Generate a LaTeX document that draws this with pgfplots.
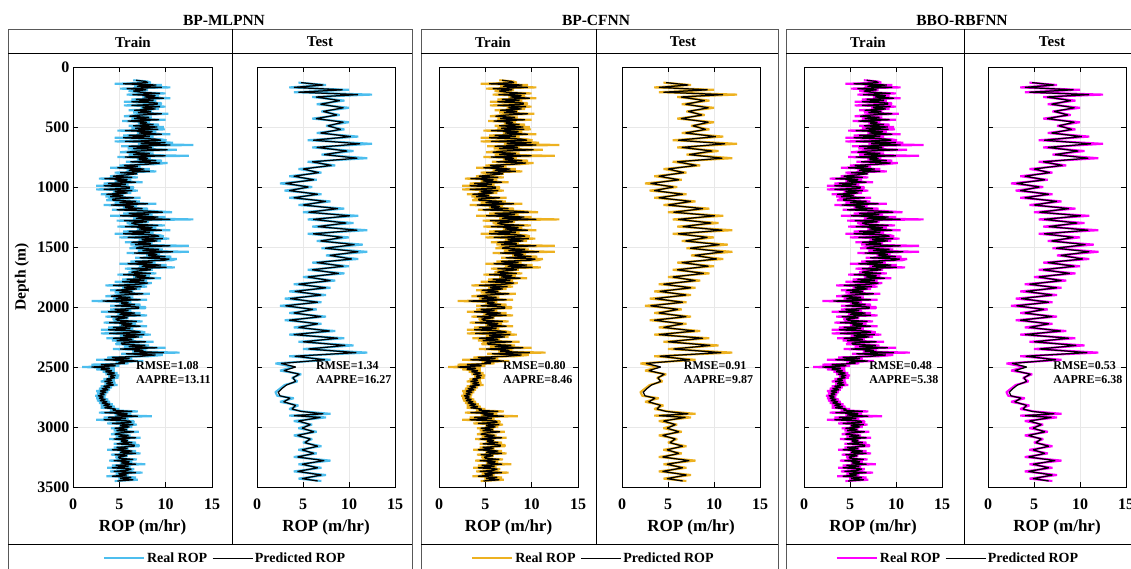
\documentclass[border=0pt]{standalone}
\usepackage{pgfplots}
\pgfplotsset{compat=1.18}
\usepackage{pgfplotstable}
\usepackage{fontspec}
\setmainfont{Liberation Serif}
\definecolor{cblue}{RGB}{77,190,238}
\definecolor{corange}{RGB}{237,177,32}
\definecolor{cmag}{RGB}{255,0,255}

\pgfplotstableread[row sep=\\]{
d r p\\
110 6.5 6.8\\ 120 8.0 7.8\\ 130 8.4 8.1\\ 140 4.5 5.4\\ 150 9.6 9.0\\ 160 6.6 6.9\\ 170 10.5 9.6\\ 180 5.1 5.8\\ 190 8.1 7.9\\ 200 6.0 6.5\\
210 7.0 7.3\\ 220 10.0 9.4\\ 230 5.8 6.4\\ 240 9.3 8.9\\ 250 7.5 7.7\\ 260 10.5 9.8\\ 270 6.3 6.8\\ 280 9.0 8.7\\ 290 5.5 6.3\\ 300 9.5 9.1\\
310 9.5 9.1\\ 320 5.5 6.3\\ 330 10.0 9.4\\ 340 7.3 7.5\\ 350 9.3 8.9\\ 360 6.0 6.6\\ 370 8.5 8.4\\ 380 6.5 7.0\\ 390 10.3 9.6\\ 400 7.0 7.3\\
410 5.5 6.1\\ 420 8.5 8.2\\ 430 6.3 6.6\\ 440 10.0 9.3\\ 450 5.3 5.9\\ 460 8.3 8.0\\ 470 7.0 7.2\\ 480 9.3 8.7\\ 490 6.0 6.5\\ 500 9.8 9.1\\
510 6.3 6.7\\ 520 9.9 9.2\\ 530 4.8 5.6\\ 540 9.0 8.6\\ 550 6.9 7.1\\ 560 10.5 9.6\\ 570 5.4 6.0\\ 580 8.7 8.3\\ 590 4.5 5.4\\ 600 9.3 8.8\\
610 10.1 9.5\\ 620 4.5 5.6\\ 630 10.8 10.0\\ 640 7.0 7.3\\ 650 13.0 10.5\\ 660 5.2 6.0\\ 670 8.7 8.5\\ 680 5.9 6.5\\ 690 11.2 10.2\\ 700 6.6 7.0\\
710 5.1 5.8\\ 720 8.7 8.3\\ 730 6.0 6.5\\ 740 12.5 10.0\\ 750 4.8 5.6\\ 760 8.4 8.1\\ 770 6.9 7.1\\ 780 9.6 9.0\\ 790 5.7 6.2\\ 800 10.2 9.4\\
810 8.8 8.1\\ 820 5.0 5.5\\ 830 7.3 7.0\\ 840 4.0 4.8\\ 850 8.3 7.7\\ 860 5.8 6.0\\ 870 9.0 8.3\\ 880 4.5 5.1\\ 890 7.0 6.9\\ 900 5.3 5.6\\
910 4.0 4.3\\ 920 7.0 6.4\\ 930 2.8 3.4\\ 940 6.3 5.9\\ 950 4.5 4.7\\ 960 7.5 6.8\\ 970 3.3 3.8\\ 980 6.0 5.7\\ 990 2.5 3.3\\ 1000 6.5 6.1\\
1010 6.5 6.1\\ 1020 2.5 3.3\\ 1030 7.0 6.4\\ 1040 4.3 4.5\\ 1050 6.3 5.9\\ 1060 3.0 3.6\\ 1070 5.5 5.4\\ 1080 3.5 4.0\\ 1090 7.3 6.6\\ 1100 4.0 4.3\\
1110 3.6 4.3\\ 1120 7.2 6.8\\ 1130 4.5 5.0\\ 1140 9.0 8.1\\ 1150 3.3 4.1\\ 1160 6.9 6.6\\ 1170 5.4 5.6\\ 1180 8.1 7.5\\ 1190 4.2 4.7\\ 1200 8.7 7.9\\
1210 10.7 9.7\\ 1220 5.4 6.0\\ 1230 8.6 8.2\\ 1240 4.0 5.1\\ 1250 10.0 9.2\\ 1260 6.5 6.8\\ 1270 13.0 10.5\\ 1280 4.7 5.5\\ 1290 8.2 8.0\\ 1300 5.8 6.3\\
1310 6.3 6.7\\ 1320 9.9 9.2\\ 1330 4.8 5.6\\ 1340 9.0 8.6\\ 1350 6.9 7.1\\ 1360 10.5 9.6\\ 1370 5.4 6.0\\ 1380 8.7 8.3\\ 1390 4.5 5.4\\ 1400 9.3 8.8\\
1410 9.8 9.3\\ 1420 5.0 5.9\\ 1430 10.4 9.7\\ 1440 7.1 7.4\\ 1450 9.5 9.1\\ 1460 5.6 6.3\\ 1470 8.6 8.4\\ 1480 6.2 6.7\\ 1490 12.5 10.5\\ 1500 6.8 7.2\\
1510 6.1 6.8\\ 1520 9.7 9.3\\ 1530 7.0 7.5\\ 1540 12.5 10.8\\ 1550 5.8 6.6\\ 1560 9.4 9.1\\ 1570 7.9 8.1\\ 1580 10.6 10.0\\ 1590 6.7 7.2\\ 1600 11.2 10.4\\
1610 10.7 9.9\\ 1620 6.2 6.7\\ 1630 8.9 8.6\\ 1640 5.0 5.9\\ 1650 10.1 9.5\\ 1660 7.1 7.4\\ 1670 11.0 10.1\\ 1680 5.6 6.3\\ 1690 8.6 8.4\\ 1700 6.5 7.0\\
1710 6.0 6.3\\ 1720 9.0 8.4\\ 1730 4.8 5.4\\ 1740 8.3 7.9\\ 1750 6.5 6.7\\ 1760 9.5 8.8\\ 1770 5.3 5.8\\ 1780 8.0 7.7\\ 1790 4.5 5.3\\ 1800 8.5 8.1\\
1810 7.5 7.1\\ 1820 3.5 4.3\\ 1830 8.0 7.4\\ 1840 5.3 5.5\\ 1850 7.3 6.9\\ 1860 4.0 4.6\\ 1870 6.5 6.4\\ 1880 4.5 5.0\\ 1890 8.3 7.6\\ 1900 5.0 5.3\\
1910 3.5 4.1\\ 1920 6.5 6.2\\ 1930 4.3 4.6\\ 1940 8.0 7.3\\ 1950 2.0 3.2\\ 1960 6.3 6.0\\ 1970 5.0 5.2\\ 1980 7.3 6.7\\ 1990 4.0 4.5\\ 2000 7.8 7.1\\
2010 7.8 7.1\\ 2020 4.0 4.5\\ 2030 6.3 6.0\\ 2040 3.0 3.8\\ 2050 7.3 6.7\\ 2060 4.8 5.0\\ 2070 8.0 7.3\\ 2080 3.5 4.1\\ 2090 6.0 5.9\\ 2100 4.3 4.6\\
2110 4.5 4.8\\ 2120 7.5 6.9\\ 2130 3.3 3.9\\ 2140 6.8 6.4\\ 2150 5.0 5.2\\ 2160 8.0 7.3\\ 2170 3.8 4.3\\ 2180 6.5 6.2\\ 2190 3.0 3.8\\ 2200 7.0 6.6\\
2210 7.8 7.3\\ 2220 3.0 3.9\\ 2230 8.4 7.7\\ 2240 5.1 5.4\\ 2250 7.5 7.1\\ 2260 3.6 4.3\\ 2270 6.6 6.4\\ 2280 4.2 4.7\\ 2290 8.7 7.9\\ 2300 4.8 5.2\\
2310 4.6 5.3\\ 2320 8.2 7.8\\ 2330 5.5 6.0\\ 2340 10.0 9.1\\ 2350 4.3 5.1\\ 2360 7.9 7.6\\ 2370 6.4 6.6\\ 2380 11.5 9.8\\ 2390 5.2 5.7\\ 2400 9.7 8.9\\
2410 8.2 7.4\\ 2420 3.7 4.2\\ 2430 6.4 6.1\\ 2440 2.5 3.4\\ 2450 7.6 7.0\\ 2460 4.6 4.9\\ 2470 6.0 5.6\\ 2480 2.0 3.0\\ 2490 5.0 4.6\\ 2500 1.0 2.0\\
2510 4.5 4.0\\ 2520 2.5 3.0\\ 2530 4.5 4.2\\ 2540 3.2 3.5\\ 2550 4.8 4.5\\ 2560 3.5 3.7\\ 2570 5.0 4.6\\ 2580 3.8 4.0\\ 2590 4.9 4.5\\ 2600 3.3 3.6\\
2610 4.5 4.2\\ 2620 3.0 3.4\\ 2630 4.6 4.3\\ 2640 3.4 3.6\\ 2650 4.8 4.4\\ 2660 3.0 3.3\\ 2670 4.2 4.0\\ 2680 2.8 3.1\\ 2690 4.0 3.8\\ 2700 2.5 2.9\\
2710 3.8 3.6\\ 2720 2.6 2.9\\ 2730 3.6 3.4\\ 2740 2.4 2.7\\ 2750 3.5 3.3\\ 2760 2.5 2.8\\ 2770 3.8 3.5\\ 2780 2.6 2.9\\ 2790 4.0 3.7\\ 2800 2.8 3.1\\
2810 4.3 4.0\\ 2820 3.0 3.3\\ 2830 4.5 4.2\\ 2840 3.0 3.4\\ 2850 5.0 4.6\\
2860 4.0 4.3\\ 2870 7.0 6.4\\ 2880 2.8 3.4\\ 2890 6.3 5.9\\ 2900 4.5 4.7\\ 2910 8.5 7.0\\ 2920 3.3 3.8\\ 2930 6.0 5.7\\ 2940 2.5 3.3\\ 2950 6.5 6.1\\
2960 6.6 6.3\\ 2970 3.7 4.2\\ 2980 6.9 6.5\\ 2990 5.0 5.1\\ 3000 6.4 6.1\\ 3010 4.1 4.5\\ 3020 5.9 5.8\\ 3030 4.4 4.7\\ 3040 7.1 6.6\\ 3050 4.8 5.0\\
3060 4.1 4.5\\ 3070 6.2 6.0\\ 3080 4.6 4.9\\ 3090 7.3 6.8\\ 3100 3.9 4.4\\ 3110 6.0 5.9\\ 3120 5.1 5.2\\ 3130 6.8 6.4\\ 3140 4.4 4.7\\ 3150 7.1 6.6\\
3160 7.1 6.6\\ 3170 4.4 4.7\\ 3180 6.0 5.9\\ 3190 3.7 4.2\\ 3200 6.8 6.4\\ 3210 5.0 5.1\\ 3220 7.3 6.8\\ 3230 4.1 4.5\\ 3240 5.9 5.8\\ 3250 4.6 4.9\\
3260 4.8 5.0\\ 3270 6.9 6.5\\ 3280 3.9 4.4\\ 3290 6.4 6.1\\ 3300 5.1 5.2\\ 3310 7.8 6.8\\ 3320 4.2 4.6\\ 3330 6.2 6.0\\ 3340 3.7 4.2\\ 3350 6.6 6.3\\
3360 6.2 5.9\\ 3370 4.0 4.4\\ 3380 7.5 6.8\\ 3390 4.6 4.9\\ 3400 6.0 5.8\\ 3410 3.6 4.2\\ 3420 6.8 6.3\\ 3430 4.9 5.1\\ 3440 7.0 6.5\\ 3450 4.5 4.8\\
}\traindata

\pgfplotstableread[row sep=\\]{
d r p\\
130 4.5 4.8\\ 150 7.5 7.2\\ 170 3.5 4.0\\ 190 10.0 9.3\\ 210 4.0 4.5\\ 230 12.5 11.0\\ 250 6.0 6.4\\ 280 9.5 9.0\\ 310 6.5 6.9\\ 340 10.0 9.4\\
370 7.0 7.2\\ 400 9.0 8.7\\ 430 6.0 6.4\\ 460 10.0 9.4\\ 490 7.5 7.7\\ 520 9.5 9.1\\ 550 6.5 6.9\\ 580 11.0 10.2\\ 610 5.5 6.1\\ 640 12.5 11.2\\
670 6.0 6.5\\ 700 10.5 9.8\\ 730 7.0 7.3\\ 760 12.0 10.9\\ 790 5.5 6.0\\ 820 8.5 8.1\\ 850 4.5 5.0\\ 880 7.0 6.7\\ 910 3.5 4.0\\ 940 6.5 6.2\\
970 2.5 3.1\\ 1000 6.0 5.6\\ 1030 3.0 3.5\\ 1060 7.0 6.6\\ 1090 3.5 4.0\\ 1120 8.0 7.5\\ 1150 4.5 5.0\\ 1180 9.5 8.8\\ 1210 5.0 5.6\\ 1240 11.0 10.1\\
1270 5.5 6.1\\ 1300 10.5 9.7\\ 1330 6.0 6.6\\ 1360 12.0 10.9\\ 1390 5.5 6.1\\ 1420 10.0 9.3\\ 1450 6.5 6.9\\ 1480 11.5 10.6\\ 1510 7.0 7.4\\ 1540 12.0 11.0\\
1570 7.5 7.9\\ 1600 11.0 10.3\\ 1630 6.0 6.5\\ 1660 10.0 9.4\\ 1690 5.5 6.0\\ 1720 9.5 8.9\\ 1750 5.0 5.5\\ 1780 8.5 8.0\\ 1810 4.0 4.5\\ 1840 8.0 7.5\\
1870 3.5 4.1\\ 1900 7.5 7.0\\ 1930 3.0 3.6\\ 1960 7.0 6.6\\ 1990 2.5 3.1\\ 2020 6.5 6.1\\ 2050 3.5 4.0\\ 2080 7.5 7.0\\ 2110 3.0 3.5\\ 2140 7.0 6.6\\
2170 4.0 4.5\\ 2200 8.5 7.9\\ 2230 3.5 4.0\\ 2260 9.5 8.8\\ 2290 4.5 5.0\\ 2320 10.5 9.6\\ 2350 5.0 5.6\\ 2380 12.0 10.8\\ 2410 3.5 4.1\\ 2440 8.0 7.4\\
2470 2.0 2.6\\ 2500 4.0 4.2\\ 2530 2.5 2.9\\ 2560 4.8 4.6\\ 2590 3.8 3.9\\ 2620 4.4 4.2\\ 2650 3.0 3.2\\ 2680 2.5 2.7\\ 2710 2.0 2.3\\ 2740 2.2 2.5\\
2760 4.0 3.6\\ 2790 2.5 2.9\\ 2820 4.5 4.2\\ 2850 3.5 3.8\\ 2870 5.0 4.8\\ 2890 8.0 7.2\\ 2905 3.5 4.0\\ 2920 7.5 6.9\\ 2950 4.0 4.5\\ 2980 6.0 5.8\\
3010 4.5 4.9\\ 3040 6.5 6.2\\ 3070 4.0 4.4\\ 3100 6.0 5.8\\ 3130 5.0 5.2\\ 3160 7.0 6.6\\ 3190 4.5 4.9\\ 3220 6.5 6.2\\ 3250 4.0 4.4\\ 3280 8.0 7.3\\
3310 4.5 4.9\\ 3340 7.0 6.6\\ 3370 4.0 4.4\\ 3400 7.5 7.0\\ 3430 4.5 4.9\\ 3450 7.0 6.6\\
}\testdata

\tikzset{
  ann/.style={font=\fontsize{12}{14}\selectfont\bfseries, anchor=west, inner sep=0pt},
  title/.style={font=\fontsize{15.5}{16}\selectfont\bfseries},
  head/.style={font=\fontsize{15}{16}\selectfont\bfseries},
}
\pgfplotsset{
  rop/.style={
    scale only axis, width=138pt, height=420pt,
    anchor=south west,
    xmin=0, xmax=15, ymin=0, ymax=3500, y dir=reverse,
    xtick={0,5,10,15}, ytick={0,500,...,3500},
    grid=major, major grid style={gray!18, line width=0.6pt},
    tick align=inside, major tick length=5pt,
    tick style={black, line width=0.7pt},
    axis line style={black, line width=0.8pt},
    ticklabel style={font=\fontsize{16}{16}\selectfont\bfseries},
    xticklabel style={yshift=-8pt},
    /pgf/number format/assume math mode=true,
    /pgf/number format/1000 sep={},
    xlabel={ROP (m/hr)},
    xlabel style={font=\fontsize{17}{17}\selectfont\bfseries, at={(axis description cs:0.5,0)}, anchor=center, yshift=-40pt},
    legend image code/.code={\draw[##1] (0pt,0pt) -- (40pt,0pt);},
  },
  noyl/.style={yticklabels={}},
  real/.style={line width=2.1pt, line join=bevel},
  pred/.style={black, line width=1.25pt, line join=bevel, legend image post style={line width=0.6pt}},
  leg/.style={legend columns=2, legend style={draw=none, fill=none,
      at={(axis description cs:#1,-0.169)}, anchor=center,
      font=\fontsize{14}{14}\selectfont\bfseries,
      /tikz/every even column/.append style={column sep=3pt},
      inner sep=0pt}},
}

\begin{document}
\begin{tikzpicture}[x=1pt,y=1pt]
\useasboundingbox (0,0) rectangle (1131,568);

% ---------- frames ----------
\draw[gray!70!black, line width=0.8pt] (8,-5) -- (8,539) -- (412,539) -- (412,-5);
\draw[black, line width=0.8pt] (8,515) -- (412,515) (8,24) -- (412,24) (232,539) -- (232,24);
\draw[gray!70!black, line width=0.8pt] (421,-5) -- (421,539) -- (778,539) -- (778,-5);
\draw[black, line width=0.8pt] (421,515) -- (778,515) (421,24) -- (778,24) (596,539) -- (596,24);
\draw[gray!70!black, line width=0.8pt] (786,-5) -- (786,539) -- (1140,539);
\draw[black, line width=0.8pt] (786,515) -- (1140,515) (786,24) -- (1140,24) (964,539) -- (964,24);

\node[title] at (224,548) {BP-MLPNN};
\node[title] at (596,548) {BP-CFNN};
\node[title] at (962,548) {BBO-RBFNN};
\node[head] at (133,526) {Train};
\node[head] at (320,526) {Test};
\node[head] at (493,526) {Train};
\node[head] at (683,526) {Test};
\node[head] at (868,526) {Train};
\node[head] at (1052,526) {Test};

% ---------- BP-MLPNN ----------
\begin{axis}[rop, at={(73pt,81pt)}, width=139pt, leg=1.094,
  ylabel={Depth (m)},
  ylabel style={font=\fontsize{15.5}{16}\selectfont\bfseries, at={(axis description cs:-0.367,0.5)}, anchor=center}]
\addplot[real, cblue] table[x=r, y=d] {\traindata};
\addlegendentry{Real ROP}
\addplot[pred] table[x=p, y=d] {\traindata};
\addlegendentry{Predicted ROP}
\node[ann] at (axis cs:6.8,2492) {RMSE=1.08};
\node[ann] at (axis cs:6.8,2608) {AAPRE=13.11};
\end{axis}
\begin{axis}[rop, noyl, at={(257pt,81pt)}]
\addplot[real, cblue] table[x=r, y=d] {\testdata};
\addplot[pred] table[x=p, y=d] {\testdata};
\node[ann] at (axis cs:6.4,2492) {RMSE=1.34};
\node[ann] at (axis cs:6.4,2608) {AAPRE=16.27};
\end{axis}

% ---------- BP-CFNN ----------
\begin{axis}[rop, noyl, at={(439pt,81pt)}, width=139pt, leg=1.111]
\addplot[real, corange] table[x=r, y=d] {\traindata};
\addlegendentry{Real ROP}
\addplot[pred] table[x=p, y=d] {\traindata};
\addlegendentry{Predicted ROP}
\node[ann] at (axis cs:6.9,2492) {RMSE=0.80};
\node[ann] at (axis cs:6.9,2608) {AAPRE=8.46};
\end{axis}
\begin{axis}[rop, noyl, at={(622pt,81pt)}]
\addplot[real, corange] table[x=r, y=d] {\testdata};
\addplot[pred] table[x=p, y=d] {\testdata};
\node[ann] at (axis cs:6.7,2492) {RMSE=0.91};
\node[ann] at (axis cs:6.7,2608) {AAPRE=9.87};
\end{axis}

% ---------- BBO-RBFNN ----------
\begin{axis}[rop, noyl, at={(804pt,81pt)}, leg=1.116]
\addplot[real, cmag] table[x=r, y=d] {\traindata};
\addlegendentry{Real ROP}
\addplot[pred] table[x=p, y=d] {\traindata};
\addlegendentry{Predicted ROP}
\node[ann] at (axis cs:7.07,2492) {RMSE=0.48};
\node[ann] at (axis cs:7.07,2608) {AAPRE=5.38};
\end{axis}
\begin{axis}[rop, noyl, at={(988pt,81pt)}]
\addplot[real, cmag] table[x=r, y=d] {\testdata};
\addplot[pred] table[x=p, y=d] {\testdata};
\node[ann] at (axis cs:7.07,2492) {RMSE=0.53};
\node[ann] at (axis cs:7.07,2608) {AAPRE=6.38};
\end{axis}
\end{tikzpicture}
\end{document}
